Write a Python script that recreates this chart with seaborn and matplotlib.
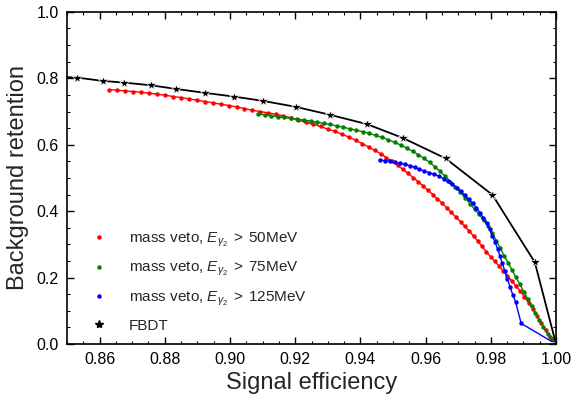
import numpy as np
import pandas as pd
import seaborn as sns
import matplotlib.pyplot as plt
from matplotlib.lines import Line2D
from matplotlib.ticker import MultipleLocator

# values
red_x = [0.8629, 0.8654, 0.8679, 0.8703, 0.8728, 0.8752, 0.8777, 0.8801, 0.8826, 0.8850,
         0.8875, 0.8899, 0.8924, 0.8948, 0.8972, 0.8996, 0.9020, 0.9044, 0.9068, 0.9092,
         0.9116, 0.9140, 0.9163, 0.9187, 0.9210, 0.9233, 0.9256, 0.9278, 0.9300, 0.9322,
         0.9344, 0.9365, 0.9386, 0.9406, 0.9425, 0.9444, 0.9462, 0.9480, 0.9497, 0.9514,
         0.9530, 0.9546, 0.9562, 0.9577, 0.9592, 0.9607, 0.9622, 0.9636, 0.9651, 0.9665,
         0.9679, 0.9693, 0.9707, 0.9720, 0.9734, 0.9747, 0.9760, 0.9773, 0.9786, 0.9799,
         0.9812, 0.9825, 0.9838, 0.9851, 0.9864, 0.9877, 0.9890, 0.9903, 0.9916, 0.9929,
         0.9942, 0.9955, 0.9968, 0.9981, 1.0000]
red_y = [0.766, 0.764, 0.762, 0.760, 0.758, 0.755, 0.752, 0.749, 0.745, 0.742,
         0.738, 0.734, 0.730, 0.726, 0.722, 0.718, 0.714, 0.709, 0.704, 0.700,
         0.696, 0.692, 0.687, 0.681, 0.674, 0.667, 0.661, 0.655, 0.647, 0.640,
         0.631, 0.623, 0.613, 0.603, 0.593, 0.583, 0.573, 0.561, 0.550, 0.538,
         0.526, 0.514, 0.501, 0.489, 0.476, 0.463, 0.450, 0.437, 0.424, 0.410,
         0.396, 0.382, 0.368, 0.354, 0.340, 0.325, 0.310, 0.294, 0.278, 0.263,
         0.249, 0.235, 0.221, 0.206, 0.191, 0.175, 0.160, 0.142, 0.124, 0.106,
         0.085, 0.063, 0.042, 0.021, 0.000]

green_x = [0.9087, 0.9107, 0.9127, 0.9147, 0.9167, 0.9187, 0.9207, 0.9227, 0.9247, 0.9267,
           0.9287, 0.9307, 0.9327, 0.9347, 0.9367, 0.9387, 0.9407, 0.9427, 0.9447, 0.9467,
           0.9486, 0.9505, 0.9524, 0.9542, 0.9560, 0.9578, 0.9595, 0.9612, 0.9628, 0.9644,
           0.9660, 0.9676, 0.9691, 0.9706, 0.9721, 0.9736, 0.9750, 0.9764, 0.9778, 0.9791,
           0.9804, 0.9817, 0.9829, 0.9841, 0.9853, 0.9865, 0.9877, 0.9889, 0.9901, 0.9913,
           0.9925, 0.9937, 0.9949, 0.9961, 0.9974, 0.9987, 1.0000]
green_y = [0.692, 0.690, 0.687, 0.684, 0.682, 0.679, 0.677, 0.674, 0.671, 0.668,
           0.664, 0.661, 0.657, 0.653, 0.648, 0.644, 0.639, 0.634, 0.628, 0.622,
           0.615, 0.607, 0.599, 0.590, 0.580, 0.570, 0.559, 0.547, 0.534, 0.520,
           0.505, 0.489, 0.473, 0.457, 0.440, 0.423, 0.406, 0.390, 0.373, 0.355,
           0.334, 0.311, 0.288, 0.266, 0.245, 0.223, 0.201, 0.180, 0.158, 0.136,
           0.115, 0.094, 0.072, 0.052, 0.031, 0.015, 0.000]

blue_x = [0.9461, 0.9476, 0.9491, 0.9506, 0.9521, 0.9536, 0.9551, 0.9566, 0.9581, 0.9596,
          0.9611, 0.9626, 0.9641, 0.9655, 0.9669, 0.9682, 0.9695, 0.9708, 0.9720, 0.9732,
          0.9744, 0.9756, 0.9767, 0.9777, 0.9787, 0.9796, 0.9805, 0.9813, 0.9821, 0.9828,
          0.9835, 0.9843, 0.9851, 0.9859, 0.9867, 0.9876, 0.9893, 1.0000]
blue_y = [0.554, 0.552, 0.550, 0.547, 0.544, 0.541, 0.537, 0.532, 0.526, 0.521,
          0.516, 0.511, 0.505, 0.498, 0.490, 0.481, 0.471, 0.460, 0.448, 0.436,
          0.424, 0.410, 0.395, 0.380, 0.363, 0.346, 0.326, 0.306, 0.286, 0.265,
          0.243, 0.220, 0.196, 0.172, 0.149, 0.127, 0.062, 0.000]

fbdt_x = [0.8450, 0.8532, 0.8610, 0.8676, 0.8757, 0.8834, 0.8924, 0.9012, 0.9101, 0.9202,
          0.9307, 0.9420, 0.9531, 0.9661, 0.9805, 0.9935, 1.0000]
fbdt_y = [0.806, 0.802, 0.792, 0.787, 0.779, 0.768, 0.756, 0.745, 0.732, 0.714,
          0.690, 0.662, 0.620, 0.559, 0.449, 0.246, 0.000]

labels = [r'mass veto, $E_{\gamma_2}\;>\;50$MeV',
          r'mass veto, $E_{\gamma_2}\;>\;75$MeV',
          r'mass veto, $E_{\gamma_2}\;>\;125$MeV',
          'FBDT']

sns.set_style('ticks')
plt.rcParams['font.family'] = ['Liberation Sans', 'DejaVu Sans']
plt.rcParams['mathtext.fontset'] = 'custom'
plt.rcParams['mathtext.rm'] = 'Liberation Sans'
plt.rcParams['mathtext.it'] = 'Liberation Sans:italic'
plt.rcParams['mathtext.bf'] = 'Liberation Sans:bold'

fig = plt.figure(figsize=(5.74, 3.95), dpi=100)
ax = fig.add_axes([0.1167, 0.129, 0.852, 0.841])

series = [(red_x, red_y, 'red'), (green_x, green_y, 'green'), (blue_x, blue_y, 'blue')]
for xs, ys, col in series:
    df = pd.DataFrame({'x': xs, 'y': ys})
    sns.lineplot(data=df, x='x', y='y', color=col, marker='o', markersize=3.2,
                 markeredgewidth=0, linewidth=1.0, ax=ax, legend=False)

df_f = pd.DataFrame({'x': fbdt_x, 'y': fbdt_y})
sns.lineplot(data=df_f, x='x', y='y', color='black', marker='*', markersize=7,
             markeredgewidth=0.5, linewidth=1.3, ax=ax, legend=False)

ax.set_xlim(0.85, 1.0)
ax.set_ylim(0.0, 1.0)
ax.xaxis.set_major_locator(MultipleLocator(0.02))
ax.xaxis.set_minor_locator(MultipleLocator(0.005))
ax.yaxis.set_major_locator(MultipleLocator(0.2))
ax.yaxis.set_minor_locator(MultipleLocator(0.05))
ax.tick_params(which='both', direction='in', top=True, right=True, colors='black')
ax.tick_params(which='major', length=5, width=1.0, labelsize=11.5, pad=6)
ax.tick_params(which='minor', length=2.5, width=0.8)
for s in ax.spines.values():
    s.set_linewidth(1.2)
    s.set_color('black')

ax.set_xlabel('Signal efficiency', fontsize=17, labelpad=3)
ax.set_ylabel('Background retention', fontsize=17, labelpad=5)

handles = [Line2D([], [], color=c, marker='o', linestyle='none', markersize=3.2,
                  markeredgewidth=0) for c in ['red', 'green', 'blue']]
handles.append(Line2D([], [], color='black', marker='*', linestyle='none', markersize=6))
ax.legend(handles, labels, loc='lower left', bbox_to_anchor=(0.037, 0.016), frameon=False,
          fontsize=11, handlelength=1.0, handletextpad=1.45, labelspacing=0.72,
          borderaxespad=0.0, numpoints=1)

fig.savefig('out.png', dpi=100)
